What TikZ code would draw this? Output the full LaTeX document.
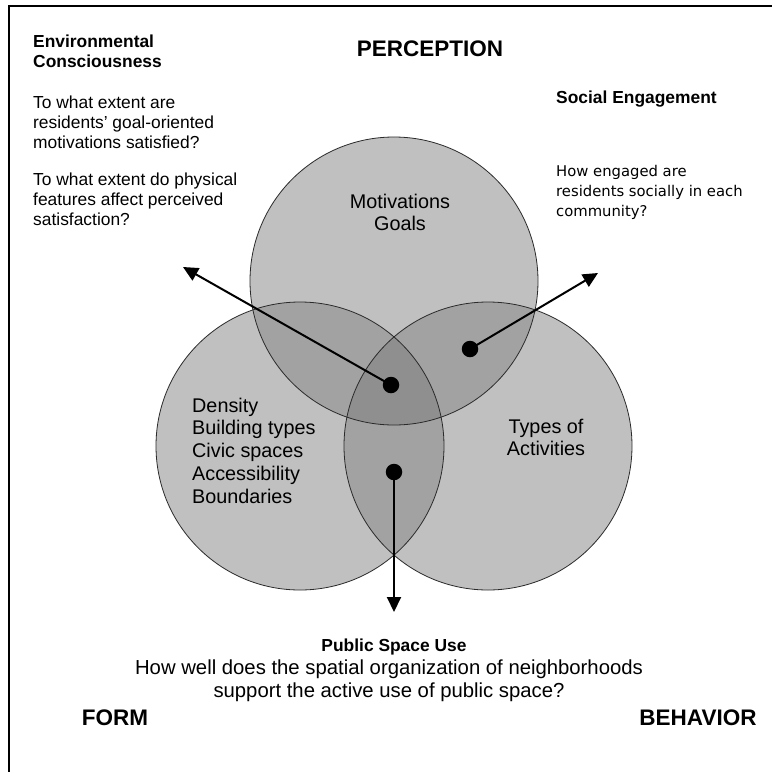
\documentclass[tikz,border=0pt]{standalone}
\usepackage{fontspec}
\setmainfont{Liberation Sans}
\newfontfamily\widesans{DejaVu Sans}
\usetikzlibrary{arrows.meta}

\definecolor{ringfill}{HTML}{C0C0C0}
\definecolor{pairfill}{HTML}{A2A2A2}
\definecolor{corefill}{HTML}{8F8F8F}
\definecolor{ringline}{HTML}{2A2A2A}

\begin{document}
\begin{tikzpicture}[x=1pt,y=-1pt,
  title/.style={font={\bfseries\fontsize{22.5}{26}\selectfont}, inner sep=0pt, anchor=base},
  heading/.style={font={\bfseries\fontsize{17.4}{20}\selectfont}, inner sep=0pt, align=left, anchor=base west},
  question/.style={font={\fontsize{17.4}{20}\selectfont}, inner sep=0pt, align=left, anchor=base west},
  softq/.style={font={\widesans\fontsize{14.8}{20}\selectfont}, inner sep=0pt, align=left, anchor=base west},
  itemlist/.style={font={\fontsize{19.8}{22.8}\selectfont}, inner sep=0pt},
  hub/.style={circle, fill=black, minimum size=16.5pt, inner sep=0pt},
  pointer/.style={line width=2pt, -{Triangle[length=15pt,width=14pt]}},
  outline/.style={draw=ringline, line width=0.8pt}]

% page area and outer frame (runs past the right and bottom edges)
\useasboundingbox (0,0) rectangle (772,772);
\clip (0,0) rectangle (772,772);
\fill[white] (0,0) rectangle (772,772);
\draw[line width=2pt] (9,790) |- (790,6);

% circle centres
\coordinate (perc) at (394,281);
\coordinate (form) at (300,446);
\coordinate (behav) at (488,446);
\def\R{144pt}

% single-set fills
\fill[ringfill] (perc) circle[radius=\R];
\fill[ringfill] (form) circle[radius=\R];
\fill[ringfill] (behav) circle[radius=\R];

% pairwise overlaps
\begin{scope}
  \clip (perc) circle[radius=\R];
  \fill[pairfill] (form) circle[radius=\R];
  \fill[pairfill] (behav) circle[radius=\R];
\end{scope}
\begin{scope}
  \clip (form) circle[radius=\R];
  \fill[pairfill] (behav) circle[radius=\R];
\end{scope}

% triple overlap
\begin{scope}
  \clip (perc) circle[radius=\R];
  \clip (form) circle[radius=\R];
  \fill[corefill] (behav) circle[radius=\R];
\end{scope}

% outlines
\draw[outline] (perc) circle[radius=\R];
\draw[outline] (form) circle[radius=\R];
\draw[outline] (behav) circle[radius=\R];

% contents of the circles (multi-line nodes sit on their last baseline)
\node[itemlist, align=center, anchor=base] (motiv) at (400,230.8) {Motivations\\Goals};
\node[itemlist, align=left, anchor=base west] (formlist) at (192,503.2)
  {Density\\Building types\\Civic spaces\\Accessibility\\Boundaries};
\node[itemlist, align=center, anchor=base] (acts) at (546,455.8) {Types of\\Activities};

% set titles
\node[title] (perctitle) at (430,56) {PERCEPTION};
\node[title] (formtitle) at (115,725) {FORM};
\node[title] (behavtitle) at (698,725) {BEHAVIOR};

% markers and pointers
\node[hub] (coredot) at (391,385) {};
\node[hub] (pbdot) at (470,349) {};
\node[hub] (fbdot) at (394,472) {};
\coordinate (envtip) at (183,267);
\coordinate (soctip) at (598,273);
\coordinate (pubtip) at (394,612);
\draw[pointer] (coredot.center) -- (envtip);
\draw[pointer] (pbdot.center) -- (soctip);
\draw[pointer] (fbdot.center) -- (pubtip);

% environmental consciousness
\node[heading] (envhead) at (33,67) {Environmental\\Consciousness};
\node[question] (envq1) at (33,148) {To what extent are\\residents’ goal-oriented\\motivations satisfied?};
\node[question] (envq2) at (33,225) {To what extent do physical\\features affect perceived\\satisfaction?};

% social engagement
\node[heading] (sochead) at (556,103) {Social Engagement};
\node[softq] (socq) at (556,216.5) {How engaged are\\residents socially in each\\community?};

% public space use
\node[font={\bfseries\fontsize{17.4}{20}\selectfont}, inner sep=0pt, anchor=base] (pubhead) at (394,651) {Public Space Use};
\node[font={\fontsize{20.3}{23}\selectfont}, inner sep=0pt, align=center, anchor=base] (pubq) at (389,697.5)
  {How well does the spatial organization of neighborhoods\\support the active use of public space?};
\end{tikzpicture}
\end{document}
